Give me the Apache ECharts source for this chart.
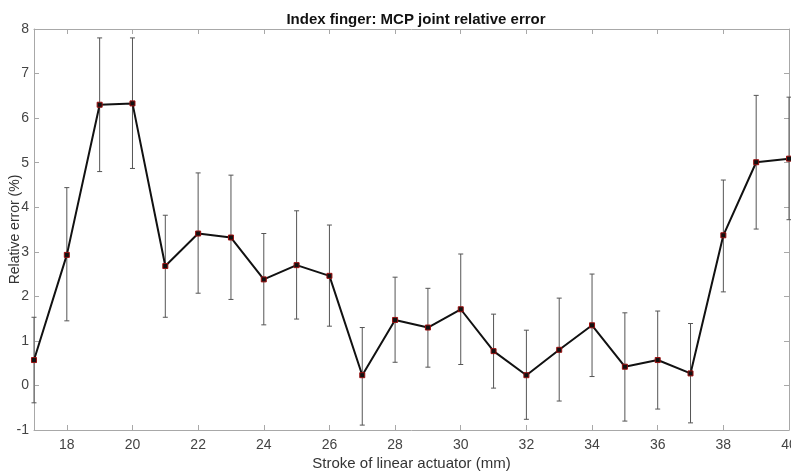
<!DOCTYPE html>
<html>
<head>
<meta charset="utf-8">
<script src="https://cdn.jsdelivr.net/npm/echarts@6/dist/echarts.min.js"></script>
<style>
  html, body { margin: 0; padding: 0; background: #fff; }
  #chart { width: 791px; height: 472px; }
</style>
</head>
<body>
<div id="chart"></div>
<script>
// stroke positions (mm) and measured relative error (%)
var strokes = [17, 18, 19, 20, 21, 22, 23, 24, 25, 26, 27, 28, 29, 30, 31, 32, 33, 34, 35, 36, 37, 38, 39, 40];
var meanErr = [0.57, 2.93, 6.30, 6.33, 2.68, 3.41, 3.32, 2.38, 2.70, 2.46, 0.23, 1.47, 1.30, 1.71, 0.77, 0.23, 0.80, 1.35, 0.42, 0.57, 0.27, 3.37, 5.01, 5.09];
var upperErr = [1.53, 4.44, 7.80, 7.80, 3.82, 4.77, 4.72, 3.41, 3.92, 3.60, 1.30, 2.43, 2.18, 2.95, 1.60, 1.24, 1.96, 2.50, 1.63, 1.67, 1.39, 4.61, 6.51, 6.47];
var lowerErr = [-0.39, 1.45, 4.80, 4.87, 1.53, 2.07, 1.93, 1.36, 1.49, 1.33, -0.89, 0.52, 0.41, 0.47, -0.06, -0.76, -0.35, 0.20, -0.80, -0.53, -0.84, 2.10, 3.51, 3.72];
var xTicks = [18, 20, 22, 24, 26, 28, 30, 32, 34, 36, 38, 40];

var font = 'Liberation Sans, Arial, sans-serif';
var axisGrey = '#a8a8a8';

var lineData = strokes.map(function (s, i) { return [s, meanErr[i]]; });
var barData = strokes.map(function (s, i) { return [s, lowerErr[i], upperErr[i]]; });

var chart = echarts.init(document.getElementById('chart'));

function xAxisCfg(pos, withLabels) {
    return {
        type: 'value', position: pos, min: 17, max: 40, interval: 1,
        name: withLabels ? 'Stroke of linear actuator (mm)' : '',
        nameLocation: 'middle', nameGap: 26, nameMoveOverlap: false,
        nameTextStyle: { fontFamily: font, fontSize: 15, color: '#333' },
        axisLine: { show: true, onZero: false, lineStyle: { color: axisGrey, width: 1 } },
        axisTick: { show: true, inside: true, length: 5, customValues: xTicks, lineStyle: { color: axisGrey } },
        axisLabel: { show: withLabels, customValues: xTicks, margin: 8, fontFamily: font, fontSize: 14, color: '#444' },
        splitLine: { show: false }
    };
}
function yAxisCfg(pos, withLabels) {
    return {
        type: 'value', position: pos, min: -1, max: 8, interval: 1,
        name: withLabels ? 'Relative error (%)' : '',
        nameLocation: 'middle', nameGap: 12, nameRotate: 90, nameMoveOverlap: false,
        nameTextStyle: { fontFamily: font, fontSize: 14, color: '#333' },
        axisLine: { show: true, onZero: false, lineStyle: { color: axisGrey, width: 1 } },
        axisTick: { show: true, inside: true, length: 5, lineStyle: { color: axisGrey } },
        axisLabel: { show: withLabels, margin: 5, fontFamily: font, fontSize: 14, color: '#444' },
        splitLine: { show: false }
    };
}

var option = {
    backgroundColor: '#fff',
    animation: false,
    title: {
        text: 'Index finger: MCP joint relative error',
        left: 411, textAlign: 'center', top: 7,
        textStyle: { fontFamily: font, fontSize: 15, fontWeight: 'bold', color: '#111' }
    },
    grid: { left: 34, right: 2, top: 29, bottom: 42, outerBoundsMode: 'none', containLabel: false },
    xAxis: [xAxisCfg('bottom', true), xAxisCfg('top', false)],
    yAxis: [yAxisCfg('left', true), yAxisCfg('right', false)],
    series: [
        {
            type: 'custom',
            clip: false,
            z: 1,
            data: barData,
            renderItem: function (params, api) {
                var x = api.value(0);
                var lo = api.coord([x, api.value(1)]);
                var hi = api.coord([x, api.value(2)]);
                var cap = 2.5;
                var style = { stroke: '#555', lineWidth: 1 };
                return {
                    type: 'group',
                    children: [
                        { type: 'line', shape: { x1: lo[0], y1: lo[1], x2: hi[0], y2: hi[1] }, style: style },
                        { type: 'line', shape: { x1: hi[0] - cap, y1: hi[1], x2: hi[0] + cap, y2: hi[1] }, style: style },
                        { type: 'line', shape: { x1: lo[0] - cap, y1: lo[1], x2: lo[0] + cap, y2: lo[1] }, style: style }
                    ]
                };
            }
        },
        {
            type: 'line',
            z: 2,
            data: lineData,
            symbol: 'rect',
            symbolSize: 5,
            showAllSymbol: true,
            lineStyle: { color: '#111', width: 2 },
            itemStyle: { color: '#111', borderColor: '#9b1010', borderWidth: 1 }
        }
    ]
};
chart.setOption(option);
</script>
</body>
</html>
